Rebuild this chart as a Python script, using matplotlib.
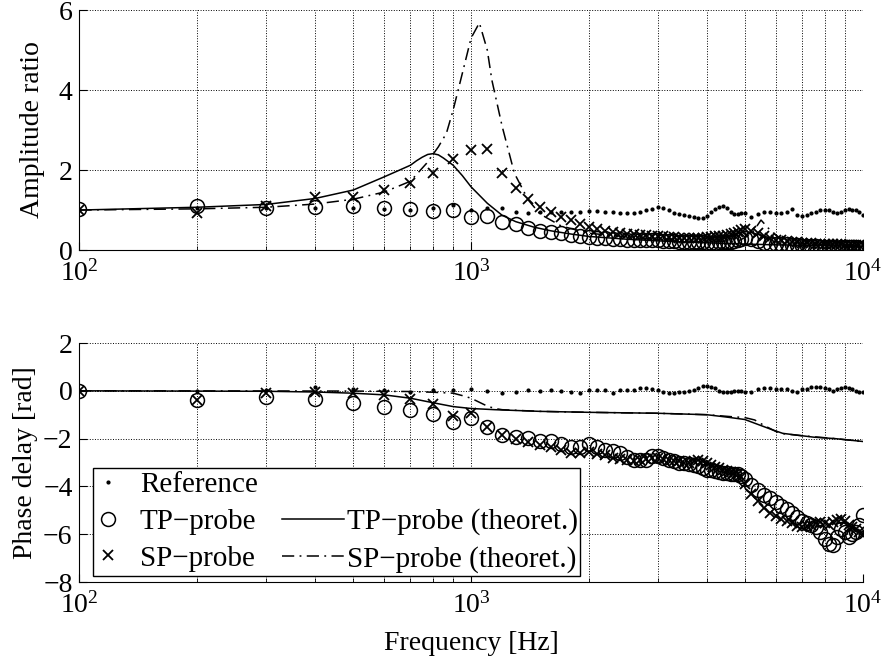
import numpy as np
import matplotlib
matplotlib.use("Agg")
import matplotlib.pyplot as plt
from matplotlib.lines import Line2D
from matplotlib.patches import Rectangle
from matplotlib.ticker import LogLocator, NullFormatter

plt.rcParams['font.family'] = ['Liberation Serif', 'DejaVu Serif']
plt.rcParams['mathtext.fontset'] = 'stix'

# measurement frequencies [Hz]
freq = list(range(100, 5001, 100)) + list(range(5200, 10001, 200))

# amplitude ratio, measured
amp_ref = [1.0, 1.05, 1.05, 1.06, 1.04, 1.03, 1.0, 1.04, 1.12, 1.0,
           1.06, 1.04, 0.96, 0.93, 0.96, 0.96, 0.96, 0.95, 0.96, 0.98,
           0.97, 0.96, 0.94, 0.92, 0.92, 0.93, 0.96, 1.0, 1.03, 1.07,
           1.06, 1.0, 0.93, 0.9, 0.87, 0.84, 0.82, 0.8, 0.8, 0.86,
           0.96, 1.02, 1.08, 1.1, 1.05, 0.94, 0.9, 0.91, 0.92, 0.93,
           0.83, 0.9, 0.96, 0.96, 0.93, 0.93, 0.96, 1.02, 0.87, 0.85,
           0.87, 0.93, 0.96, 1.0, 1.0, 1.0, 0.96, 0.92, 0.94, 1.0,
           1.02, 1.0, 0.99, 0.96, 0.88]
amp_tp = [1.02, 1.1, 1.05, 1.07, 1.1, 1.04, 1.03, 0.97, 1.0, 0.82,
          0.85, 0.71, 0.64, 0.55, 0.47, 0.45, 0.42, 0.38, 0.34, 0.32,
          0.3, 0.3, 0.28, 0.27, 0.26, 0.25, 0.25, 0.24, 0.24, 0.24,
          0.23, 0.22, 0.22, 0.21, 0.2, 0.2, 0.2, 0.19, 0.19, 0.18,
          0.18, 0.18, 0.19, 0.2, 0.2, 0.2, 0.22, 0.25, 0.28, 0.3,
          0.28, 0.22, 0.18, 0.16, 0.15, 0.14, 0.14, 0.12, 0.12, 0.11,
          0.1, 0.1, 0.09, 0.08, 0.08, 0.08, 0.07, 0.06, 0.07, 0.07,
          0.08, 0.08, 0.07, 0.06, 0.05]
amp_sp = [1.0, 0.92, 1.1, 1.33, 1.33, 1.5, 1.68, 1.93, 2.27, 2.5,
          2.52, 1.92, 1.54, 1.27, 1.08, 0.96, 0.83, 0.75, 0.65, 0.58,
          0.52, 0.48, 0.45, 0.43, 0.41, 0.4, 0.38, 0.37, 0.36, 0.35,
          0.34, 0.33, 0.32, 0.31, 0.3, 0.3, 0.3, 0.3, 0.31, 0.32,
          0.33, 0.34, 0.35, 0.36, 0.38, 0.4, 0.43, 0.46, 0.5, 0.52,
          0.48, 0.42, 0.36, 0.3, 0.26, 0.24, 0.22, 0.2, 0.19, 0.18,
          0.17, 0.17, 0.16, 0.16, 0.15, 0.15, 0.14, 0.14, 0.14, 0.13,
          0.13, 0.13, 0.12, 0.12, 0.12]

# phase delay [rad], measured
ph_ref = [0.0, 0.0, 0.02, 0.17, 0.06, 0.03, -0.05, 0.03, 0.05, 0.08,
          0.0, -0.1, -0.03, 0.02, 0.0, 0.02, 0.0, -0.03, -0.08, 0.04,
          0.02, 0.02, -0.08, 0.04, 0.02, 0.04, 0.1, 0.1, 0.06, 0.05,
          -0.03, -0.1, -0.1, -0.07, -0.03, 0.0, 0.04, 0.1, 0.2, 0.2,
          0.17, 0.1, 0.0, -0.04, -0.07, -0.04, -0.02, 0.0, -0.02, -0.04,
          -0.04, 0.06, 0.1, 0.1, 0.06, 0.06, 0.06, -0.02, -0.07, 0.06,
          0.06, 0.14, 0.17, 0.17, 0.11, 0.06, -0.02, 0.06, 0.11, 0.14,
          0.11, 0.06, -0.02, -0.04, -0.04]
ph_tp = [0.0, -0.38, -0.24, -0.35, -0.52, -0.66, -0.8, -0.95, -1.3, -1.14,
         -1.53, -1.85, -1.94, -1.96, -2.09, -2.1, -2.23, -2.34, -2.37, -2.24,
         -2.37, -2.48, -2.5, -2.62, -2.78, -2.9, -2.9, -2.88, -2.73, -2.72,
         -2.8, -2.9, -2.95, -3.0, -3.03, -3.05, -3.1, -3.15, -3.25, -3.3,
         -3.3, -3.35, -3.4, -3.45, -3.45, -3.48, -3.5, -3.5, -3.55, -3.7,
         -3.95, -4.15, -4.35, -4.5, -4.64, -4.8, -4.95, -5.1, -5.3, -5.45,
         -5.55, -5.6, -5.7, -5.9, -6.2, -6.4, -6.45, -6.1, -5.8, -5.9,
         -6.1, -6.0, -5.9, -5.6, -5.2]
ph_sp = [0.0, -0.38, -0.1, -0.03, -0.1, -0.17, -0.36, -0.56, -1.04, -0.94,
         -1.53, -1.85, -2.0, -2.15, -2.25, -2.35, -2.48, -2.6, -2.62, -2.55,
         -2.65, -2.7, -2.8, -2.85, -2.9, -2.92, -2.88, -2.85, -2.8, -2.8,
         -2.85, -2.9, -2.95, -2.95, -3.0, -3.0, -2.95, -2.9, -2.95, -3.0,
         -3.1, -3.17, -3.25, -3.3, -3.35, -3.4, -3.45, -3.5, -3.6, -3.9,
         -4.3, -4.6, -4.9, -5.1, -5.25, -5.35, -5.45, -5.55, -5.65, -5.7,
         -5.65, -5.6, -5.55, -5.5, -5.55, -5.6, -5.5, -5.4, -5.35, -5.45,
         -5.6, -5.7, -5.8, -5.9, -6.0]

# theoretical curves
th_tp_amp_f = [100, 200, 300, 400, 500, 600, 650, 700, 725, 750, 775, 800, 825, 850,
               900, 950, 1000, 1100, 1200, 1300, 1450, 1600, 1800, 2000, 2500, 3000,
               4000, 5000, 6000, 8000, 10000]
th_tp_amp = [1.0, 1.07, 1.14, 1.29, 1.5, 1.83, 1.98, 2.12, 2.23, 2.32, 2.39, 2.41, 2.38,
             2.3, 2.12, 1.86, 1.58, 1.17, 0.87, 0.71, 0.57, 0.48, 0.4, 0.34, 0.27, 0.23,
             0.18, 0.15, 0.13, 0.11, 0.09]
th_sp_amp_f = [100, 200, 300, 400, 500, 600, 700, 770, 825, 865, 900, 950, 1000, 1050,
               1100, 1130, 1200, 1290, 1400, 1500, 1700, 2000, 2500, 3000, 4000,
               4800, 5200, 5500, 5800, 6200, 7000, 8000, 10000]
th_sp_amp = [1.0, 1.03, 1.07, 1.15, 1.27, 1.45, 1.72, 2.17, 2.58, 2.92, 3.5, 4.42, 5.3, 5.68,
             5.0, 4.25, 3.1, 1.92, 1.25, 0.9, 0.6, 0.42, 0.33, 0.27, 0.2,
             0.22, 0.4, 0.75, 0.5, 0.25, 0.17, 0.13, 0.1]
th_tp_ph_f = [100, 300, 400, 500, 600, 700, 800, 900, 1000, 1150, 1500, 2000, 3000,
              4000, 4500, 5000, 5450, 5900, 6250, 7000, 7500, 8500, 10000]
th_tp_ph = [0.0, -0.02, -0.05, -0.1, -0.17, -0.31, -0.5, -0.66, -0.74, -0.79, -0.86,
            -0.9, -0.94, -1.0, -1.1, -1.2, -1.43, -1.64, -1.78, -1.88, -1.94, -2.0, -2.12]
th_sp_ph_f = [100, 500, 700, 800, 900, 950, 1000, 1050, 1100, 1150, 1200, 1500, 2000,
              3000, 4000, 4600, 5000, 5300, 5600, 6000, 6300, 7000, 8500, 10000]
th_sp_ph = [0.0, -0.01, -0.03, -0.06, -0.1, -0.2, -0.31, -0.48, -0.64, -0.74, -0.79,
            -0.86, -0.9, -0.94, -1.0, -1.08, -1.12, -1.22, -1.45, -1.7, -1.8, -1.88,
            -2.0, -2.12]

fs = 20
lfs = 21
dashdot = (0, (8, 3.5, 1.2, 3.5))

fig = plt.figure(figsize=(8.82, 6.58), dpi=100)
ax1 = fig.add_axes([0.0901, 0.620, 0.888, 0.3647])
ax2 = fig.add_axes([0.0901, 0.1155, 0.888, 0.3632])

def style(ax):
    ax.set_xscale('log')
    ax.set_xlim(100, 10000)
    ax.xaxis.set_minor_locator(LogLocator(base=10, subs=np.arange(2, 10)))
    ax.xaxis.set_minor_formatter(NullFormatter())
    ax.grid(True, which='major', linestyle=':', color='k', linewidth=0.7)
    ax.grid(True, which='minor', axis='x', linestyle=':', color='k', linewidth=0.7)
    ax.spines['top'].set_visible(False)
    ax.spines['right'].set_visible(False)
    ax.tick_params(which='both', direction='in', labelsize=fs)
    ax.tick_params(axis='x', pad=7)
    ax.tick_params(axis='y', pad=5)
    ax.tick_params(which='major', length=6)
    ax.tick_params(which='minor', length=3)
    ax.set_axisbelow(True)

# amplitude
ax1.plot(freq, amp_tp, 'o', mfc='none', mec='k', ms=10, mew=1.1)
ax1.plot(freq, amp_sp, 'x', color='k', ms=7, mew=1.3)
ax1.plot(freq, amp_ref, '.', color='k', ms=4)
ax1.plot(th_tp_amp_f, th_tp_amp, '-', color='k', lw=1.1)
ax1.plot(th_sp_amp_f, th_sp_amp, color='k', lw=1.1, linestyle=dashdot)
style(ax1)
ax1.set_ylim(0, 6)
ax1.set_yticks([0, 2, 4, 6])
ax1.set_ylabel('Amplitude ratio', fontsize=fs)
ax1.yaxis.set_label_coords(-0.044, 0.5)

# phase
h_tp, = ax2.plot(freq, ph_tp, 'o', mfc='none', mec='k', ms=10, mew=1.1)
h_sp, = ax2.plot(freq, ph_sp, 'x', color='k', ms=7, mew=1.3)
h_ref, = ax2.plot(freq, ph_ref, '.', color='k', ms=4)
h_tpt, = ax2.plot(th_tp_ph_f, th_tp_ph, '-', color='k', lw=1.1)
h_spt, = ax2.plot(th_sp_ph_f, th_sp_ph, color='k', lw=1.1, linestyle=dashdot)
style(ax2)
ax2.set_ylim(-8, 2)
ax2.set_yticks([-8, -6, -4, -2, 0, 2])
ax2.set_ylabel('Phase delay [rad]', fontsize=fs)
ax2.yaxis.set_label_coords(-0.053, 0.5)
ax2.set_xlabel('Frequency [Hz]', fontsize=fs, labelpad=9)

# legend: frame + two columns with different handle lengths
ax2.add_patch(Rectangle((0.0172, 0.025), 0.6216, 0.452, transform=ax2.transAxes,
                        facecolor='white', edgecolor='k', lw=1.0, zorder=4))
blank = Line2D([], [], linestyle='none', marker='none')
leg_opts = dict(fontsize=lfs, frameon=False, borderpad=0.2, labelspacing=0.36,
                borderaxespad=0, loc='upper left')
leg1 = ax2.legend([h_ref, h_tp, h_sp], ['Reference', 'TP\u2212probe', 'SP\u2212probe'],
                  handlelength=0.63, handletextpad=0.78,
                  bbox_to_anchor=(0.0172, 0.487), **leg_opts)
leg1.set_zorder(5)
ax2.add_artist(leg1)
leg2 = ax2.legend([blank, h_tpt, h_spt],
                  [' ', 'TP\u2212probe (theoret.)', 'SP\u2212probe (theoret.)'],
                  handlelength=2.12, handletextpad=0.1,
                  bbox_to_anchor=(0.2514, 0.487), **leg_opts)
leg2.set_zorder(5)

fig.savefig('out.png', dpi=100)
